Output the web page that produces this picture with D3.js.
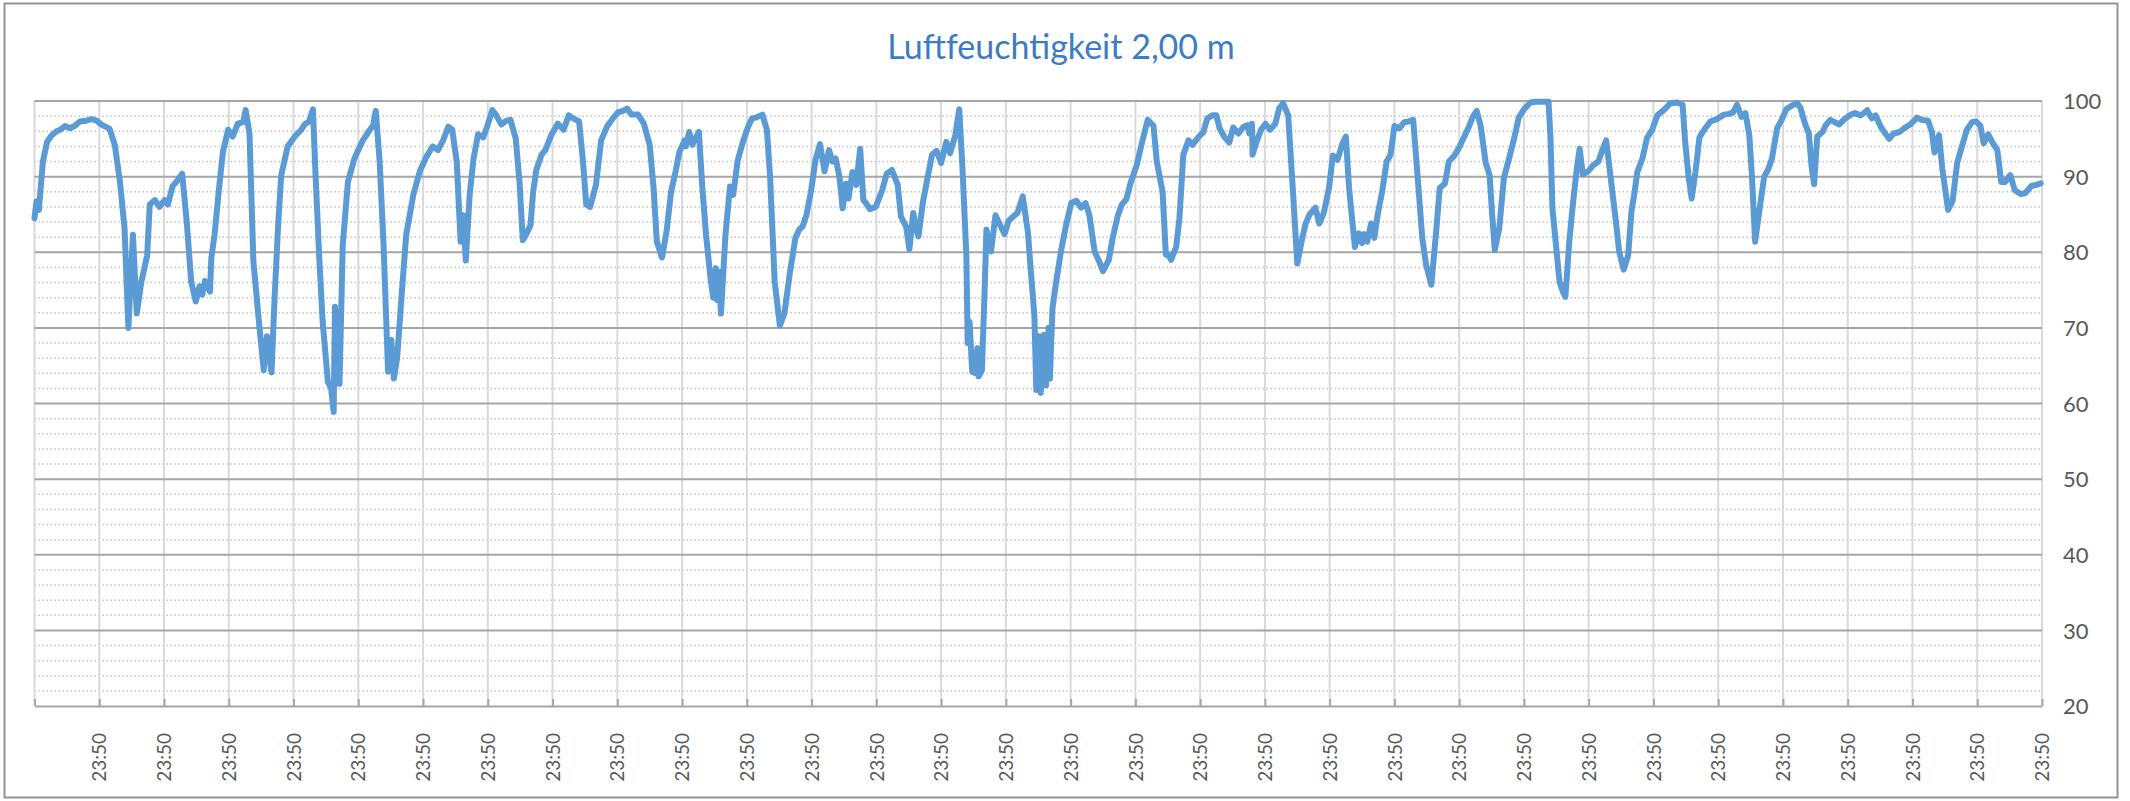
<!DOCTYPE html>
<html>
<head>
<meta charset="utf-8">
<script src="https://cdn.jsdelivr.net/npm/d3@7"></script>
<style>
  body { margin: 0; background: #fff; }
  svg { display: block; font-family: Lato, "Open Sans", sans-serif; }
</style>
</head>
<body>
<script>
"use strict";

var width = 2130;
var height = 801;

// data: position in days from start, relative humidity in %
var times = [
  0.00, 0.03, 0.067, 0.13, 0.195, 0.26, 0.34, 0.40, 0.47, 0.55, 0.62, 0.70, 0.80, 0.88, 0.96,
  1.03, 1.16, 1.24, 1.32, 1.39, 1.45, 1.52, 1.58, 1.65, 1.74, 1.78, 1.86, 1.93,
  2.01, 2.06, 2.13, 2.19, 2.28, 2.35, 2.42, 2.49, 2.55, 2.59, 2.63, 2.71, 2.73, 2.78, 2.85, 2.91, 2.99,
  3.06, 3.14, 3.22, 3.26, 3.32, 3.38, 3.47, 3.54, 3.59, 3.66, 3.71, 3.76, 3.81, 3.91,
  4.02, 4.12, 4.17, 4.24, 4.30, 4.34, 4.40, 4.45, 4.53, 4.58, 4.62, 4.64, 4.71, 4.76, 4.84, 4.94,
  5.07, 5.18, 5.23, 5.27, 5.33, 5.39, 5.46, 5.51, 5.55, 5.60, 5.67, 5.74, 5.85, 5.95,
  6.05, 6.15, 6.23, 6.31, 6.39, 6.45, 6.52, 6.58, 6.62, 6.66, 6.72, 6.78, 6.85, 6.93, 6.99,
  7.07, 7.13, 7.21, 7.29, 7.35, 7.43, 7.49, 7.54, 7.59, 7.66, 7.70, 7.75, 7.83, 7.89, 7.98,
  8.08, 8.17, 8.25, 8.32, 8.41, 8.47, 8.52, 8.58, 8.67, 8.75, 8.84, 8.93,
  9.01, 9.09, 9.15, 9.22, 9.32, 9.41, 9.50, 9.56, 9.61, 9.69, 9.76, 9.83, 9.90, 9.96,
  10.04, 10.06, 10.11, 10.16, 10.19, 10.26, 10.31, 10.37, 10.44, 10.48, 10.52, 10.54, 10.57, 10.60,
  10.67, 10.74, 10.79, 10.86, 10.94,
  11.02, 11.08, 11.14, 11.24, 11.31, 11.36, 11.43, 11.51, 11.58, 11.66, 11.75, 11.81, 11.86, 11.92, 11.99,
  12.06, 12.13, 12.20, 12.27, 12.32, 12.37, 12.43, 12.48, 12.53, 12.57, 12.63, 12.69, 12.75, 12.80,
  12.84, 12.90, 12.99,
  13.09, 13.16, 13.24, 13.33, 13.38, 13.46, 13.51, 13.57, 13.61, 13.65, 13.72, 13.79, 13.86, 13.93,
  14.00, 14.08, 14.14, 14.22, 14.28, 14.33, 14.39, 14.41, 14.44, 14.48, 14.53, 14.56, 14.58, 14.63,
  14.67, 14.70, 14.77, 14.84, 14.90, 14.98,
  15.04, 15.11, 15.18, 15.26, 15.34, 15.39, 15.44, 15.47, 15.51, 15.54, 15.59, 15.62, 15.66, 15.68,
  15.72, 15.77, 15.85, 15.93,
  16.01, 16.09, 16.16, 16.23, 16.29, 16.37, 16.44, 16.50, 16.59, 16.65, 16.73, 16.79, 16.86, 16.93,
  17.02, 17.11, 17.19, 17.28, 17.33, 17.42, 17.47, 17.51, 17.55, 17.63, 17.68, 17.74, 17.82, 17.88, 17.98,
  18.05, 18.11, 18.19, 18.25, 18.30, 18.37, 18.45, 18.51, 18.59, 18.67, 18.73, 18.76, 18.80, 18.81,
  18.87, 18.94,
  19.01, 19.08, 19.16, 19.22, 19.28, 19.36, 19.43, 19.50, 19.57, 19.63, 19.69, 19.78, 19.84, 19.91, 19.99,
  20.05, 20.12, 20.19, 20.25, 20.30, 20.35, 20.39, 20.45, 20.50, 20.53, 20.58, 20.64, 20.69, 20.74,
  20.81, 20.88, 20.94,
  21.00, 21.08, 21.15, 21.22, 21.29, 21.36, 21.43, 21.49, 21.57, 21.64, 21.70, 21.78, 21.84, 21.92, 21.99,
  22.08, 22.15, 22.21, 22.27, 22.33, 22.41, 22.47, 22.51, 22.55, 22.62, 22.69, 22.77, 22.85, 22.92,
  23.00, 23.10, 23.18, 23.38, 23.41, 23.44, 23.49, 23.55, 23.60, 23.64, 23.70, 23.76, 23.82, 23.86, 23.91, 23.99,
  24.07, 24.15, 24.21, 24.27, 24.34, 24.42, 24.47, 24.54, 24.61, 24.66, 24.71, 24.75, 24.83, 24.90, 24.98,
  25.06, 25.16, 25.26, 25.37, 25.45, 25.49, 25.54, 25.59, 25.65, 25.71, 25.80, 25.88, 25.98,
  26.09, 26.17, 26.23, 26.29, 26.36, 26.42, 26.48, 26.52, 26.57, 26.64, 26.71, 26.77, 26.83, 26.91, 26.98,
  27.05, 27.14, 27.22, 27.27, 27.34, 27.40, 27.44, 27.48, 27.53, 27.61, 27.66, 27.73, 27.80, 27.87, 27.95,
  28.03, 28.11, 28.20, 28.25, 28.30, 28.37, 28.43, 28.51, 28.58, 28.64, 28.71, 28.80, 28.89, 28.98,
  29.07, 29.15, 29.24, 29.30, 29.34, 29.41, 29.46, 29.51, 29.55, 29.62, 29.69, 29.77, 29.84, 29.92, 29.98,
  30.05, 30.10, 30.17, 30.23, 30.31, 30.37, 30.43, 30.51, 30.58, 30.67, 30.74, 30.84, 30.91, 30.98
];

var humidity = [
  84.5, 86.7, 85.6, 92.0, 94.6, 95.4, 96.0, 96.2, 96.7, 96.4, 96.7, 97.3, 97.4, 97.6, 97.4,
  96.9, 96.3, 94.2, 89.3, 83.2, 70.0, 82.3, 71.9, 76.1, 79.6, 86.3, 86.9, 86.0,
  86.9, 86.3, 88.7, 89.3, 90.4, 84.1, 76.1, 73.5, 75.5, 74.4, 76.2, 74.8, 79.2, 82.3, 88.5, 93.3, 96.2,
  95.3, 97.0, 97.2, 98.8, 95.7, 78.8, 70.4, 64.4, 68.9, 64.1, 74.4, 83.2, 90.2, 94.0,
  95.3, 96.2, 96.9, 97.3, 98.9, 90.2, 78.8, 70.8, 62.9, 62.0, 58.9, 72.8, 62.6, 81.0, 89.3, 92.4,
  94.8, 96.2, 96.8, 98.7, 92.0, 81.0, 64.2, 68.4, 63.3, 66.0, 74.4, 82.3, 87.6, 90.7,
  92.6, 94.0, 93.5, 94.8, 96.6, 96.2, 92.0, 81.4, 84.9, 78.9, 87.6, 92.4, 95.6, 95.2, 96.6,
  98.8, 98.1, 96.9, 97.4, 97.5, 95.1, 89.3, 81.6, 82.3, 83.6, 88.0, 90.9, 92.9, 93.5, 95.5,
  97.0, 96.2, 98.1, 97.7, 97.3, 92.0, 86.3, 86.0, 88.9, 94.8, 96.6, 97.7,
  98.5, 98.7, 99.0, 98.2, 98.2, 97.0, 94.2, 88.5, 81.4, 79.3, 82.7, 88.0, 90.7, 93.3,
  94.8, 94.0, 95.9, 94.2, 94.8, 95.9, 88.9, 82.3, 76.5, 74.0, 77.9, 73.7, 77.4, 71.9,
  82.3, 88.7, 87.6, 92.2, 94.6,
  96.6, 97.7, 97.8, 98.2, 96.2, 89.8, 76.1, 70.3, 71.9, 77.0, 81.9, 83.0, 83.4, 84.9, 88.0,
  92.2, 94.3, 90.7, 93.5, 92.0, 92.4, 90.0, 85.8, 89.1, 87.1, 90.6, 88.9, 93.7, 86.9,
  86.5, 85.7, 86.0,
  88.2, 90.4, 90.9, 88.9, 84.7, 83.4, 80.4, 85.2, 83.2, 82.1, 86.7, 89.8, 92.9, 93.4,
  91.8, 94.6, 93.1, 95.5, 98.9, 91.1, 79.6, 68.0, 70.8, 64.2, 64.0, 67.3, 63.6, 64.4,
  74.4, 83.0, 80.1, 84.9, 83.8, 82.4,
  84.1, 84.7, 85.2, 87.4, 82.7, 77.0, 71.7, 61.8, 68.9, 61.4, 69.1, 62.4, 70.0, 63.3,
  72.6, 75.7, 80.1, 83.6,
  86.5, 86.8, 85.9, 86.5, 84.9, 80.1, 78.8, 77.5, 79.0, 81.9, 84.9, 86.3, 87.0, 89.3,
  91.5, 94.8, 97.5, 96.7, 92.0, 88.0, 79.7, 79.6, 79.0, 80.7, 84.5, 92.9, 94.8, 94.2, 95.3,
  95.9, 97.7, 98.1, 98.1, 96.4, 95.3, 94.5, 96.5, 95.7, 96.6, 96.8, 95.7, 97.0, 92.9,
  94.6, 96.2,
  97.0, 96.2, 97.0, 99.0, 99.7, 98.1, 88.5, 78.5, 81.6, 83.8, 85.0, 85.9, 83.8, 85.2, 88.5,
  92.8, 92.2, 94.2, 95.3, 88.5, 84.1, 80.7, 82.5, 81.2, 82.4, 81.4, 83.8, 81.9, 84.9,
  88.0, 92.0, 92.9,
  96.7, 96.4, 97.2, 97.3, 97.5, 89.8, 81.9, 78.3, 75.7, 82.3, 88.5, 89.1, 92.0, 92.7, 93.7,
  95.3, 96.6, 97.9, 98.7, 96.8, 91.8, 90.2, 84.9, 80.3, 83.2, 89.8, 92.4, 95.1, 97.8,
  98.9, 99.8, 99.9, 99.9, 95.1, 85.8, 81.4, 76.1, 74.8, 74.1, 81.4, 86.7, 91.3, 93.7, 90.3, 90.7,
  91.5, 92.0, 93.5, 94.8, 89.8, 84.1, 80.1, 77.7, 79.6, 85.4, 88.0, 90.6, 92.4, 95.1, 96.2,
  98.1, 98.8, 99.7, 99.8, 99.5, 94.6, 90.2, 87.1, 90.7, 95.2, 96.4, 97.3, 97.6,
  98.2, 98.3, 98.5, 99.5, 97.9, 98.4, 95.5, 90.2, 81.4, 85.8, 90.0, 90.9, 92.4, 96.4, 97.5,
  98.9, 99.4, 99.7, 99.1, 97.0, 95.7, 91.5, 89.0, 95.3, 95.9, 96.8, 97.5, 97.2, 96.9, 97.6,
  98.1, 98.4, 98.1, 98.4, 98.8, 97.7, 98.1, 96.6, 95.7, 95.0, 95.7, 95.9, 96.5, 97.0,
  97.8, 97.5, 97.4, 95.9, 93.2, 95.5, 91.1, 88.0, 85.6, 86.8, 91.8, 94.2, 96.2, 97.2, 97.3,
  96.7, 94.4, 95.6, 94.6, 93.5, 89.3, 89.3, 90.2, 88.2, 87.7, 87.8, 88.8, 88.9, 89.1
];

// category labels at the end of each day
var dayLabels = d3.range(31).map(function () { return "23:50"; });
var yTicks = [20, 30, 40, 50, 60, 70, 80, 90, 100];
var title = "Luftfeuchtigkeit 2,00 m";

var dataset = times.map(function (t, i) { return [t, humidity[i]]; });

var plotLeft = 34.5;
var plotRight = 2042;
var plotTop = 101;
var plotBottom = 706;

var svg = d3.select("body").append("svg").attr("width", width).attr("height", height);

// outer chart frame
svg.append("rect").attr("x", 4.5).attr("y", 3.5).attr("width", 2113).attr("height", 794)
  .attr("fill", "#fff").attr("stroke", "#939393").attr("stroke-width", 2);

// Define Scales

var xScale = d3.scaleLinear().domain([0, dayLabels.length]).range([plotLeft, plotRight]);
var yScale = d3.scaleLinear().domain([20, 100]).range([plotBottom, plotTop]);

// minor gridlines (every 2 %)
var minor = d3.range(22, 100, 2).filter(function (v) { return v % 10 !== 0; });
svg.append("g").selectAll("line").data(minor).enter().append("line")
  .attr("x1", plotLeft).attr("x2", plotRight)
  .attr("y1", function (d) { return yScale(d); }).attr("y2", function (d) { return yScale(d); })
  .attr("stroke", "#c4c4c4").attr("stroke-width", 1.5).attr("stroke-dasharray", "1.5,2.5");

// vertical gridlines at each day
svg.append("g").selectAll("line").data(d3.range(0, dayLabels.length + 1)).enter().append("line")
  .attr("x1", function (d) { return xScale(d); }).attr("x2", function (d) { return xScale(d); })
  .attr("y1", plotTop).attr("y2", plotBottom)
  .attr("stroke", "#d9d9d9").attr("stroke-width", 2);

// major gridlines
svg.append("g").selectAll("line").data(yTicks.slice(1)).enter().append("line")
  .attr("x1", plotLeft).attr("x2", plotRight)
  .attr("y1", function (d) { return yScale(d); }).attr("y2", function (d) { return yScale(d); })
  .attr("stroke", "#a6a6a6").attr("stroke-width", 2);

// y axis labels on the right
var yAxis = d3.axisRight(yScale).tickValues(yTicks).tickSize(0).tickPadding(0);
var gy = svg.append("g").attr("transform", "translate(" + 2063 + ",0)").call(yAxis);
gy.select(".domain").remove();
gy.selectAll("text").attr("fill", "#595959").style("font-size", "22px")
  .style("font-family", "Lato, sans-serif").attr("dy", "0.35em");

// x axis with ticks pointing into the plot
var xAxis = d3.axisBottom(xScale).tickValues(d3.range(0, dayLabels.length + 1))
  .tickSize(-7).tickSizeOuter(0)
  .tickFormat(function (d) { return d === 0 ? "" : dayLabels[d - 1]; });
var gx = svg.append("g").attr("transform", "translate(0," + plotBottom + ")").call(xAxis);
gx.select(".domain").attr("stroke", "#a6a6a6").attr("stroke-width", 2);
gx.selectAll(".tick line").attr("stroke", "#a6a6a6").attr("stroke-width", 2);
gx.selectAll("text").attr("fill", "#595959").style("font-size", "19px")
  .style("font-family", "Lato, sans-serif")
  .attr("transform", "rotate(-90)").attr("x", -27).attr("y", 0).attr("dy", "0.35em")
  .style("text-anchor", "end");

// Draw Data

var line = d3.line()
  .x(function (d) { return xScale(d[0]); })
  .y(function (d) { return yScale(d[1]); });

svg.append("path").datum(dataset).attr("d", line)
  .attr("fill", "none").attr("stroke", "#5b9bd5").attr("stroke-width", 6)
  .attr("stroke-linejoin", "round").attr("stroke-linecap", "round");

// title
svg.append("text").attr("x", 1061).attr("y", 59).attr("text-anchor", "middle")
  .attr("fill", "#3b7cc4").style("font-size", "34px").style("font-family", "Lato, sans-serif")
  .text(title);
</script>
</body>
</html>
